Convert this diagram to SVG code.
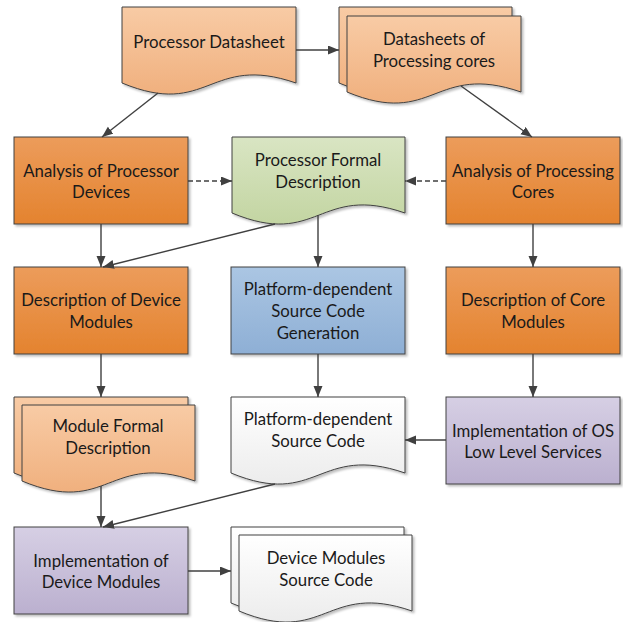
<svg xmlns="http://www.w3.org/2000/svg" width="623" height="622" viewBox="0 0 623 622">
  <defs>
    <linearGradient id="gDocOrange" x1="0" y1="0" x2="0" y2="1">
      <stop offset="0" stop-color="#f8cba5"/>
      <stop offset="1" stop-color="#f0b07e"/>
    </linearGradient>
    <linearGradient id="gOrange" x1="0" y1="0" x2="0" y2="1">
      <stop offset="0" stop-color="#ec9c5b"/>
      <stop offset="1" stop-color="#e4832f"/>
    </linearGradient>
    <linearGradient id="gGreen" x1="0" y1="0" x2="0" y2="1">
      <stop offset="0" stop-color="#d9e5c3"/>
      <stop offset="1" stop-color="#c3d5a2"/>
    </linearGradient>
    <linearGradient id="gBlue" x1="0" y1="0" x2="0" y2="1">
      <stop offset="0" stop-color="#abc6e3"/>
      <stop offset="1" stop-color="#8eafd5"/>
    </linearGradient>
    <linearGradient id="gPurple" x1="0" y1="0" x2="0" y2="1">
      <stop offset="0" stop-color="#d6cfe4"/>
      <stop offset="1" stop-color="#bbb0cf"/>
    </linearGradient>
    <linearGradient id="gWhite" x1="0" y1="0" x2="0" y2="1">
      <stop offset="0" stop-color="#ffffff"/>
      <stop offset="1" stop-color="#ececec"/>
    </linearGradient>
    <filter id="shadow" x="-10%" y="-10%" width="130%" height="130%">
      <feDropShadow dx="2" dy="2" stdDeviation="1" flood-color="#000" flood-opacity="0.25"/>
    </filter>
    <marker id="arrow" markerUnits="userSpaceOnUse" markerWidth="12" markerHeight="10" refX="11" refY="4.5" orient="auto">
      <path d="M0,0 L11,4.5 L0,9 Z" fill="#404040"/>
    </marker>
  </defs>
  <style>
    .shape { stroke: #404040; stroke-width: 1; filter: url(#shadow); }
    .label { font-family: Lato, "Open Sans", "Liberation Sans", sans-serif; font-size: 16.8px; fill: #1a1a1a; text-anchor: middle; dominant-baseline: central; }
    .conn { fill: none; stroke: #404040; stroke-width: 1.4; marker-end: url(#arrow); }
    .dash { stroke-dasharray: 5 3; }
  </style>

  <g id="processor-datasheet">
    <path class="shape" fill="url(#gDocOrange)" d="M122,7 H296 V83 C209,53 209,119 122,83 Z"/>
    <text class="label" x="209" y="41">Processor Datasheet</text>
  </g>

  <g id="core-datasheets">
    <path class="shape" fill="url(#gDocOrange)" d="M339,7 H512 V83 C425.5,53 425.5,119 339,83 Z"/>
    <path class="shape" fill="url(#gDocOrange)" d="M347,16 H521 V92 C434,62 434,128 347,92 Z"/>
    <text class="label" x="434" y="38">Datasheets of</text>
    <text class="label" x="434" y="60">Processing cores</text>
  </g>

  <g id="analysis-devices">
    <rect class="shape" fill="url(#gOrange)" x="14" y="137" width="174" height="87"/>
    <text class="label" x="101" y="170">Analysis of Processor</text>
    <text class="label" x="101" y="191">Devices</text>
  </g>

  <g id="processor-formal-description">
    <path class="shape" fill="url(#gGreen)" d="M232,137 H405 V213 C318.5,183 318.5,249 232,213 Z"/>
    <text class="label" x="318" y="159">Processor Formal</text>
    <text class="label" x="318" y="181">Description</text>
  </g>

  <g id="analysis-cores">
    <rect class="shape" fill="url(#gOrange)" x="446" y="137" width="174" height="87"/>
    <text class="label" x="533" y="170">Analysis of Processing</text>
    <text class="label" x="533" y="191">Cores</text>
  </g>

  <g id="device-modules-description">
    <rect class="shape" fill="url(#gOrange)" x="14" y="267" width="174" height="87"/>
    <text class="label" x="101" y="299">Description of Device</text>
    <text class="label" x="101" y="321">Modules</text>
  </g>

  <g id="source-generation">
    <rect class="shape" fill="url(#gBlue)" x="231" y="267" width="174" height="87"/>
    <text class="label" x="318" y="288">Platform-dependent</text>
    <text class="label" x="318" y="310">Source Code</text>
    <text class="label" x="318" y="332">Generation</text>
  </g>

  <g id="core-modules-description">
    <rect class="shape" fill="url(#gOrange)" x="446" y="267" width="174" height="87"/>
    <text class="label" x="533" y="299">Description of Core</text>
    <text class="label" x="533" y="321">Modules</text>
  </g>

  <g id="module-formal-description">
    <path class="shape" fill="url(#gDocOrange)" d="M14,397 H188 V473 C101,443 101,509 14,473 Z"/>
    <path class="shape" fill="url(#gDocOrange)" d="M22,405 H195 V481 C108.5,451 108.5,517 22,481 Z"/>
    <text class="label" x="108" y="425">Module Formal</text>
    <text class="label" x="108" y="447">Description</text>
  </g>

  <g id="platform-source-code">
    <path class="shape" fill="url(#gWhite)" d="M231,397 H405 V473 C318,443 318,509 231,473 Z"/>
    <text class="label" x="318" y="418">Platform-dependent</text>
    <text class="label" x="318" y="440">Source Code</text>
  </g>

  <g id="os-services">
    <rect class="shape" fill="url(#gPurple)" x="446" y="397" width="174" height="87"/>
    <text class="label" x="533" y="430">Implementation of OS</text>
    <text class="label" x="533" y="451">Low Level Services</text>
  </g>

  <g id="device-modules-impl">
    <rect class="shape" fill="url(#gPurple)" x="14" y="527" width="174" height="87"/>
    <text class="label" x="101" y="560">Implementation of</text>
    <text class="label" x="101" y="581">Device Modules</text>
  </g>

  <g id="device-modules-source">
    <path class="shape" fill="url(#gWhite)" d="M231,527 H404 V603 C317.5,573 317.5,639 231,603 Z"/>
    <path class="shape" fill="url(#gWhite)" d="M239,535 H412 V611 C325.5,581 325.5,647 239,611 Z"/>
    <text class="label" x="326" y="557">Device Modules</text>
    <text class="label" x="326" y="579">Source Code</text>
  </g>

  <g id="connectors">
    <line class="conn" x1="296" y1="50" x2="339" y2="50"/>
    <line class="conn" x1="158" y1="93" x2="102" y2="137"/>
    <line class="conn" x1="461" y1="86" x2="532" y2="137"/>
    <line class="conn dash" x1="188" y1="181" x2="232" y2="181"/>
    <line class="conn dash" x1="446" y1="181" x2="405" y2="181"/>
    <line class="conn" x1="101" y1="224" x2="101" y2="267"/>
    <line class="conn" x1="318" y1="215" x2="318" y2="267"/>
    <line class="conn" x1="533" y1="224" x2="533" y2="267"/>
    <line class="conn" x1="275" y1="224" x2="103" y2="267"/>
    <line class="conn" x1="101" y1="354" x2="101" y2="397"/>
    <line class="conn" x1="318" y1="354" x2="318" y2="397"/>
    <line class="conn" x1="533" y1="354" x2="533" y2="397"/>
    <line class="conn" x1="446" y1="440" x2="405" y2="440"/>
    <line class="conn" x1="101" y1="486" x2="101" y2="527"/>
    <line class="conn" x1="275" y1="484" x2="103" y2="527"/>
    <line class="conn" x1="188" y1="571" x2="231" y2="571"/>
  </g>
</svg>
